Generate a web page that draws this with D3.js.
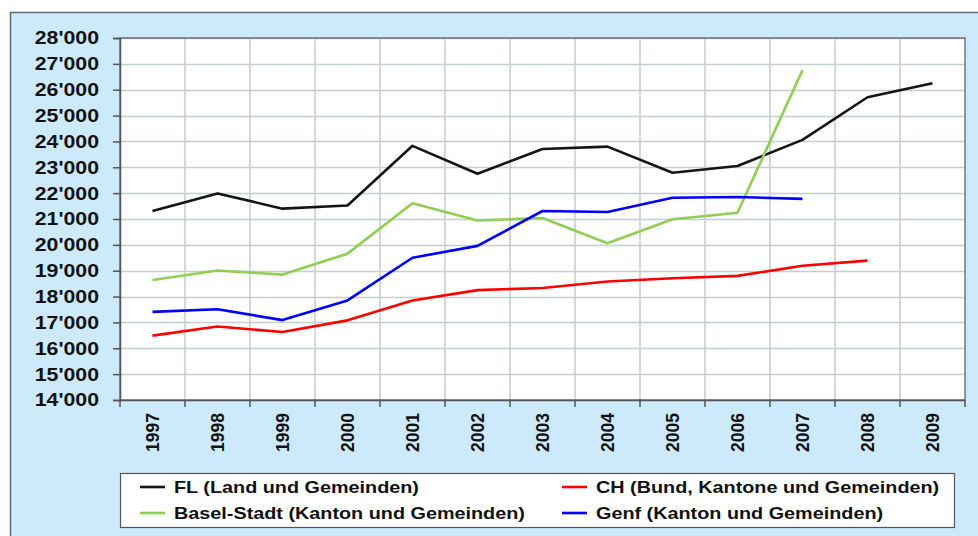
<!DOCTYPE html>
<html>
<head>
<meta charset="utf-8">
<script src="https://cdn.jsdelivr.net/npm/d3@7"></script>
<style>
  body { margin: 0; background: #fff; }
  svg { display: block; font-family: "Liberation Sans", Arial, sans-serif; }
</style>
</head>
<body>
<div id="chart"></div>
<script>
// Data
const years = ["1997", "1998", "1999", "2000", "2001", "2002", "2003", "2004", "2005", "2006", "2007", "2008", "2009"];
const fl = [21310, 21990, 21400, 21520, 23830, 22750, 23710, 23800, 22790, 23050, 24060, 25710, 26250];
const ch = [16490, 16840, 16630, 17080, 17850, 18250, 18330, 18580, 18710, 18800, 19190, 19390];
const basel = [18640, 19010, 18850, 19660, 21610, 20940, 21040, 20060, 20990, 21240, 26760];
const genf = [17410, 17510, 17090, 17850, 19500, 19960, 21310, 21270, 21820, 21850, 21780];
const yTicks = d3.range(14000, 28001, 1000);

const series = [
    { name: "FL (Land und Gemeinden)", values: fl, color: "#151515" },
    { name: "CH (Bund, Kantone und Gemeinden)", values: ch, color: "#ff0000" },
    { name: "Basel-Stadt (Kanton und Gemeinden)", values: basel, color: "#8fcf55" },
    { name: "Genf (Kanton und Gemeinden)", values: genf, color: "#0000ff" }
];

const W = 978, H = 536;
const margin = { top: 38, right: 13, bottom: 136, left: 120 },
    width = W - margin.left - margin.right,
    height = H - margin.top - margin.bottom;

// stretch text horizontally, the original font is wider than ours
function stretch(sel, k) {
    sel.each(function () {
        const len = this.getComputedTextLength();
        d3.select(this)
            .attr("textLength", len * k)
            .attr("lengthAdjust", "spacingAndGlyphs");
    });
}

const svg = d3.select("#chart").append("svg")
    .attr("width", W)
    .attr("height", H);

// light blue panel
svg.append("rect")
    .attr("x", 10.5).attr("y", 12.5)
    .attr("width", W).attr("height", H)
    .attr("fill", "#cdeafc")
    .attr("stroke", "#6a6a6a")
    .attr("stroke-width", 1.5);

const g = svg.append("g")
    .attr("transform", `translate(${margin.left},${margin.top})`);

g.append("rect")
    .attr("width", width).attr("height", height)
    .attr("fill", "#fff");

const x = d3.scaleBand().domain(years).range([0, width]);
const y = d3.scaleLinear().domain([14000, 28000]).range([height, 0]);

// grid
g.append("g")
    .selectAll("line.h")
    .data(yTicks)
    .join("line")
    .attr("x1", 0).attr("x2", width)
    .attr("y1", d => Math.round(y(d)) + 0.5).attr("y2", d => Math.round(y(d)) + 0.5)
    .attr("stroke", "#c5cdcd").attr("stroke-width", 1.5);

g.append("g")
    .selectAll("line.v")
    .data(years.slice(1))
    .join("line")
    .attr("x1", d => x(d)).attr("x2", d => x(d))
    .attr("y1", 0).attr("y2", height)
    .attr("stroke", "#c5cdcd").attr("stroke-width", 1.5);

// plot border
g.append("rect")
    .attr("width", width).attr("height", height)
    .attr("fill", "none")
    .attr("stroke", "#555").attr("stroke-width", 1.2);

// Y axis
const yAxis = g.append("g")
    .call(d3.axisLeft(y).tickValues(yTicks).tickSize(7).tickPadding(14)
        .tickFormat(d => d3.format(",")(d).replace(",", "'")));
yAxis.select(".domain").attr("stroke", "#555").attr("stroke-width", 1.5);
yAxis.selectAll(".tick line").attr("stroke", "#555").attr("stroke-width", 1.5);
yAxis.selectAll("text")
    .attr("fill", "#111")
    .style("font-size", "18.5px")
    .style("font-weight", "bold")
    .call(stretch, 1.15);

// X axis
const xAxis = g.append("g")
    .attr("transform", `translate(0,${height})`)
    .call(d3.axisBottom(x).tickSize(0).tickPadding(0));
xAxis.select(".domain").attr("stroke", "#555").attr("stroke-width", 1.5);
xAxis.selectAll(".tick text")
    .attr("fill", "#111")
    .attr("transform", "rotate(-90)")
    .attr("x", -13)
    .attr("y", 0)
    .attr("dy", "0.35em")
    .style("text-anchor", "end")
    .style("font-size", "17.5px")
    .style("font-weight", "bold");
// ticks at category boundaries
xAxis.append("g")
    .selectAll("line")
    .data(years.concat(["end"]))
    .join("line")
    .attr("x1", (d, i) => i * x.bandwidth()).attr("x2", (d, i) => i * x.bandwidth())
    .attr("y1", 0).attr("y2", 7)
    .attr("stroke", "#555").attr("stroke-width", 1.5);

// lines
const line = d3.line()
    .x((d, i) => x(years[i]) + x.bandwidth() / 2)
    .y(d => y(d));

g.append("g")
    .selectAll("path")
    .data(series)
    .join("path")
    .attr("d", d => line(d.values))
    .attr("fill", "none")
    .attr("stroke", d => d.color)
    .attr("stroke-width", 2.6)
    .attr("stroke-linejoin", "round");

// legend
const legend = svg.append("g").attr("transform", "translate(120,473)");
legend.append("rect")
    .attr("x", 0.5).attr("y", 0.5)
    .attr("width", 834).attr("height", 54)
    .attr("fill", "#fff")
    .attr("stroke", "#555").attr("stroke-width", 1.2);

const items = legend.selectAll("g.item")
    .data(series)
    .join("g")
    .attr("class", "item")
    .attr("transform", (d, i) => `translate(${(i % 2) * 422 + 20},${Math.floor(i / 2) * 26 + 14})`);

items.append("line")
    .attr("x1", 0).attr("x2", 25)
    .attr("stroke", d => d.color)
    .attr("stroke-width", 2.6);

items.append("text")
    .attr("x", 34)
    .attr("dy", "0.36em")
    .attr("fill", "#111")
    .style("font-size", "16.5px")
    .style("font-weight", "bold")
    .text(d => d.name)
    .call(stretch, 1.2);
</script>
</body>
</html>
